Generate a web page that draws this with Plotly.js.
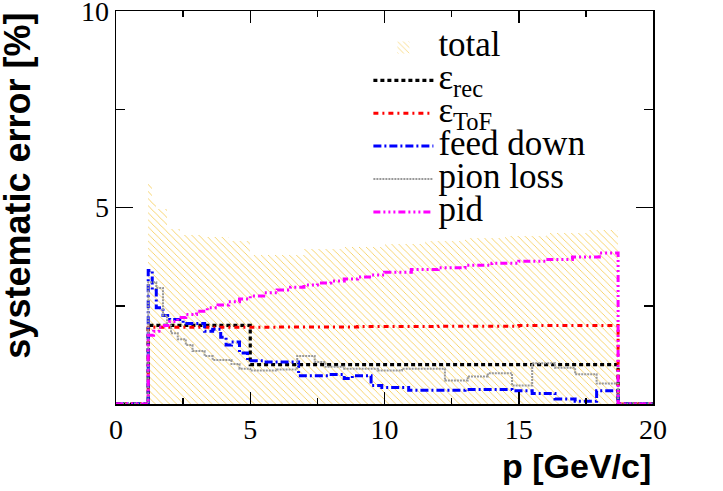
<!DOCTYPE html>
<html>
<head>
<meta charset="utf-8">
<script src="https://cdn.plot.ly/plotly-3.0.1.min.js"></script>
<style>
  body { margin: 0; background: #ffffff; }
  #chart { width: 723px; height: 491px; }
</style>
</head>
<body>
<div id="chart"></div>
<script>
// momentum range of the whole histogram [GeV/c]
const pMin = 0;
const pMax = 20;

// total systematic error (hatched band), bin edges and contents [%]
const totalEdges = [1.2, 1.35, 1.5, 1.9, 2.4, 3.3, 4.2, 5.0, 7.0, 8.5, 10, 11.5, 13, 14.5, 16, 17.5, 18.7];
const totalVals = [5.6, 5.15, 4.95, 4.45, 4.3, 4.25, 4.15, 3.78, 3.95, 4.0, 4.08, 4.15, 4.22, 4.28, 4.35, 4.42];

// reconstruction efficiency
const recEdges = [1.2, 5.0, 18.7];
const recVals = [2.0, 1.0];

// ToF efficiency
const tofEdges = [1.2, 3, 6, 9, 12, 15, 18.7];
const tofVals = [1.95, 1.95, 1.96, 1.97, 1.98, 2.0];

// feed down
const fdEdges = [1.2, 1.35, 1.5, 1.75, 2.0, 2.5, 3.0, 3.3, 3.6, 3.9, 4.1, 4.3, 4.6, 4.9, 5.5, 6.8, 7.9, 8.5, 8.8, 9.5, 9.9, 10.9, 13.0, 14.75, 15.5, 16.35, 17.1, 17.9, 18.7];
const fdVals = [3.4, 2.9, 2.45, 2.25, 2.15, 2.05, 2.05, 1.85, 1.9, 1.7, 1.5, 1.58, 1.3, 1.1, 1.07, 0.72, 0.75, 0.65, 0.72, 0.47, 0.42, 0.35, 0.37, 0.34, 0.27, 0.13, 0.07, 0.34];

// pion loss
const pionEdges = [1.2, 1.5, 1.75, 1.9, 2.05, 2.3, 2.6, 2.85, 3.3, 3.6, 4.3, 4.6, 5.0, 6.0, 6.75, 7.4, 7.8, 8.5, 9.75, 10.65, 11.25, 12.25, 13.1, 13.85, 14.75, 15.5, 16.35, 17.1, 17.9, 18.7];
const pionVals = [3.1, 2.95, 2.25, 2.0, 1.8, 1.65, 1.5, 1.35, 1.22, 1.12, 1.02, 0.9, 0.85, 0.88, 1.22, 1.07, 0.95, 0.9, 0.85, 0.9, 0.9, 0.6, 0.7, 0.78, 0.47, 1.04, 0.92, 0.76, 0.52];

// pid
const pidEdges = [1.2, 1.4, 1.6, 1.8, 2.0, 2.3, 2.6, 3.0, 3.4, 3.8, 4.2, 4.6, 5.0, 5.5, 6.0, 6.5, 7.0, 7.5, 8.0, 8.5, 9.0, 9.5, 10, 11, 12, 13, 14, 15, 16, 17, 18, 18.7];
const pidVals = [1.75, 1.85, 1.95, 2.0, 2.1, 2.2, 2.28, 2.36, 2.45, 2.52, 2.6, 2.67, 2.75, 2.83, 2.9, 2.97, 3.03, 3.08, 3.13, 3.18, 3.23, 3.28, 3.35, 3.42, 3.47, 3.53, 3.58, 3.63, 3.68, 3.74, 3.84];

const serif = 'Liberation Serif, Times New Roman, serif';
const sans = 'Liberation Sans, Arial, sans-serif';

// legend text is drawn bigger than the legend row height, like ROOT does
const big = (s) => '<span style="font-size:35px">' + s + '</span>';

// ROOT-like step line: empty from pMin up to first edge and after last edge
function stepTrace(edges, vals, name, color, width, dash) {
  const x = [pMin].concat(edges, [pMax]);
  const y = [0].concat(vals, [0, 0]);
  return {
    x: x,
    y: y,
    type: 'scatter',
    mode: 'lines',
    name: big(name),
    line: { color: color, width: width, dash: dash, shape: 'hv' },
    hoverinfo: 'skip'
  };
}

const centers = totalVals.map((v, i) => (totalEdges[i] + totalEdges[i + 1]) / 2);
const widths = totalVals.map((v, i) => totalEdges[i + 1] - totalEdges[i]);

const totalTrace = {
  x: centers,
  y: totalVals,
  width: widths,
  type: 'bar',
  name: big('total'),
  marker: {
    color: 'rgba(255,255,255,0)',
    line: { width: 0 },
    pattern: { shape: '\\', fgcolor: '#f5c843', size: 5, solidity: 0.15 }
  },
  hoverinfo: 'skip'
};

const traces = [
  totalTrace,
  stepTrace(recEdges, recVals, 'ε<sub>rec</sub>', '#000000', 3.2, '4px,3px'),
  stepTrace(tofEdges, tofVals, 'ε<sub>ToF</sub>', '#ff0000', 3, '5px,4px,2px,4px'),
  stepTrace(fdEdges, fdVals, 'feed down', '#0000ff', 3, '8px,3px,2px,3px'),
  stepTrace(pionEdges, pionVals, 'pion loss', '#999999', 2, '2px,1px'),
  stepTrace(pidEdges, pidVals, 'pid', '#ff00ff', 3, '7px,3px,2px,3px,2px,3px,2px,3px')
];

const layout = {
  width: 723,
  height: 491,
  margin: { l: 116, r: 70, t: 11, b: 87 },
  paper_bgcolor: '#ffffff',
  plot_bgcolor: '#ffffff',
  bargap: 0,
  showlegend: true,
  legend: {
    x: 0.47,
    y: 0.962,
    xanchor: 'left',
    yanchor: 'top',
    bgcolor: 'rgba(0,0,0,0)',
    borderwidth: 0,
    itemwidth: 60,
    tracegroupgap: 0,
    font: { family: serif, size: 23, color: '#000000' }
  },
  xaxis: {
    range: [pMin, pMax],
    tickvals: [0, 5, 10, 15, 20],
    ticks: 'inside',
    ticklen: 12,
    tickwidth: 1.5,
    tickcolor: '#000000',
    minor: { dtick: 2.5, tick0: 0, ticks: 'inside', ticklen: 6, tickwidth: 1.5, tickcolor: '#000000' },
    showline: true,
    linewidth: 1.5,
    linecolor: '#000000',
    mirror: 'ticks',
    showgrid: false,
    zeroline: false,
    ticklabeloverflow: 'allow',
    tickfont: { family: serif, size: 28, color: '#000000' }
  },
  yaxis: {
    range: [0, 10],
    tickvals: [0, 5, 10],
    ticktext: ['', '5', '10'],
    ticks: 'inside',
    ticklen: 17,
    tickwidth: 1.5,
    tickcolor: '#000000',
    minor: { dtick: 2.5, tick0: 0, ticks: 'inside', ticklen: 9, tickwidth: 1.5, tickcolor: '#000000' },
    showline: true,
    linewidth: 1.5,
    linecolor: '#000000',
    mirror: 'ticks',
    showgrid: false,
    zeroline: false,
    ticklabeloverflow: 'allow',
    tickfont: { family: serif, size: 28, color: '#000000' }
  },
  annotations: [
    {
      text: '<b>p [GeV/c]</b>',
      xref: 'paper', yref: 'paper',
      x: 1, y: -0.158,
      xanchor: 'right', yanchor: 'middle',
      showarrow: false,
      font: { family: sans, size: 34, color: '#000000' }
    },
    {
      text: '<b>systematic error [%]</b>',
      xref: 'paper', yref: 'paper',
      x: -0.185, y: 1,
      xanchor: 'center', yanchor: 'top',
      textangle: -90,
      showarrow: false,
      font: { family: sans, size: 36, color: '#000000' }
    }
  ]
};

Plotly.newPlot('chart', traces, layout, { displayModeBar: false, staticPlot: true });
</script>
</body>
</html>
